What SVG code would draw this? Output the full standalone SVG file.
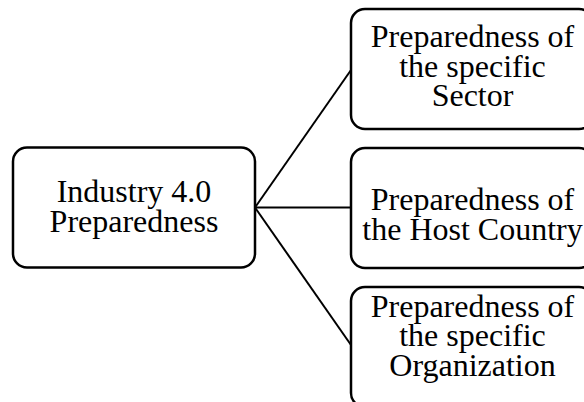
<svg xmlns="http://www.w3.org/2000/svg" width="584" height="402" viewBox="0 0 584 402">
  <style>
    .box { fill: #ffffff; stroke: #000000; stroke-width: 2.5; }
    .lbl { font-family: "Liberation Serif", "Times New Roman", serif; font-size: 32px; fill: #000000; text-anchor: middle; }
    .conn { stroke: #000000; stroke-width: 2; fill: none; }
  </style>
  <rect width="584" height="402" fill="#ffffff"/>
  <g id="connectors">
    <line class="conn" x1="255" y1="207.5" x2="351" y2="70"/>
    <line class="conn" x1="255" y1="207.5" x2="351" y2="207.5"/>
    <line class="conn" x1="255" y1="207.5" x2="351" y2="345"/>
  </g>
  <g id="industry40">
    <rect class="box" x="13" y="147.5" width="242" height="120" rx="14" ry="14"/>
    <text class="lbl" x="134" y="201.5">Industry 4.0</text>
    <text class="lbl" x="134" y="231.5">Preparedness</text>
  </g>
  <g id="sector">
    <rect class="box" x="351" y="9" width="242" height="120" rx="14" ry="14"/>
    <text class="lbl" x="472.5" y="47">Preparedness of</text>
    <text class="lbl" x="472.5" y="76.5">the specific</text>
    <text class="lbl" x="472.5" y="106">Sector</text>
  </g>
  <g id="hostcountry">
    <rect class="box" x="351" y="148" width="242" height="120" rx="14" ry="14"/>
    <text class="lbl" x="472.5" y="210">Preparedness of</text>
    <text class="lbl" x="472.5" y="240">the Host Country</text>
  </g>
  <g id="organization">
    <rect class="box" x="351" y="287" width="242" height="120" rx="14" ry="14"/>
    <text class="lbl" x="472.5" y="316.5">Preparedness of</text>
    <text class="lbl" x="472.5" y="346">the specific</text>
    <text class="lbl" x="472.5" y="375.5">Organization</text>
  </g>
</svg>
